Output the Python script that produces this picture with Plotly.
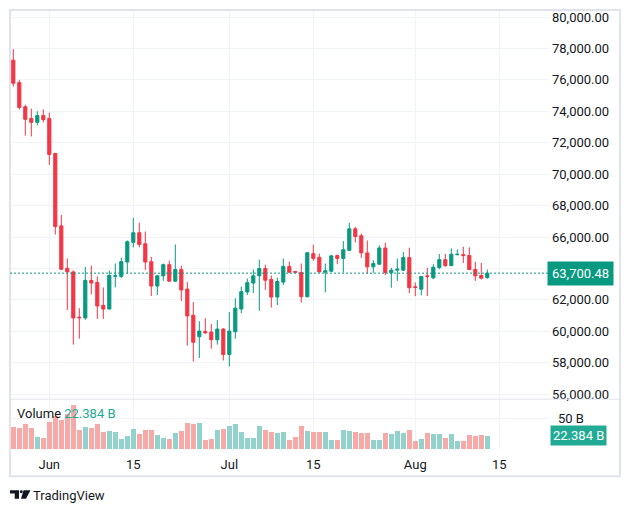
import pandas as pd
import plotly.graph_objects as go

W, H = 630, 515

# daily candles, values
dates = pd.date_range("2024-05-26", periods=80, freq="D")

opens = [77260, 75830, 74290, 73540, 73300, 73730, 73540, 71320, 66710, 64010,
         63780, 60900, 60850, 63240, 63110, 61650, 61420, 63500, 63490, 64410,
         65660, 66270, 65570, 64430, 62880, 63530, 64240, 63190, 63930, 62690,
         61020, 59650, 59990, 59950, 59460, 60140, 58520, 59970, 61420, 62500,
         63070, 63530, 63990, 63300, 62180, 63130, 64120, 63800, 63740, 62200,
         64940, 64710, 63760, 63820, 64820, 64640, 65150, 66520, 66080, 64990,
         64100, 64270, 65300, 63720, 63890, 63890, 64690, 62830, 62680, 63530,
         63400, 64060, 64560, 64180, 64870, 64880, 64820, 63930, 63550, 63420]
highs = [77960, 76000, 74420, 74170, 74000, 74120, 73920, 71350, 67410, 64630,
         63870, 61470, 64100, 64180, 63490, 62790, 63870, 64310, 64680, 65780,
         67220, 66900, 66350, 64730, 63560, 64310, 64500, 65530, 64180, 63130,
         61860, 60640, 60830, 60460, 60710, 60200, 61220, 62100, 62840, 63360,
         63930, 64560, 64240, 63550, 63420, 64630, 64430, 63850, 64310, 65010,
         65510, 64940, 64310, 64850, 64880, 65740, 66900, 66650, 66220, 65780,
         64520, 65470, 65640, 64040, 64630, 65050, 65320, 63110, 63520, 64040,
         64270, 64920, 64920, 65280, 65210, 65380, 65340, 64420, 64350, 63930]
lows = [75580, 74120, 72460, 72400, 73110, 73300, 70590, 66160, 63900, 61360,
        59150, 59530, 60730, 62350, 60790, 60790, 61380, 62790, 63400, 63680,
        65340, 65340, 63910, 62240, 62310, 63210, 63150, 63150, 61930, 59080,
        58070, 58300, 59840, 58890, 59150, 58140, 57760, 59530, 61150, 62310,
        62430, 61300, 62630, 61510, 61670, 62940, 63720, 63700, 61830, 62150,
        64480, 63740, 62480, 63780, 64270, 63740, 65100, 65660, 64670, 63680,
        63720, 64230, 63570, 62770, 63210, 63850, 62420, 62240, 62290, 62240,
        63320, 63950, 64100, 64150, 64850, 64350, 63900, 63210, 63300, 63340]
closes = [75790, 74250, 73490, 73300, 73730, 73470, 71260, 66670, 63950, 63780,
          60850, 60860, 63240, 63070, 61610, 61420, 63550, 63540, 64430, 65700,
          66270, 65530, 64410, 62880, 63530, 64240, 63190, 63930, 62630, 60980,
          59300, 60010, 59900, 59460, 60140, 58520, 60010, 61470, 62520, 63090,
          63530, 63990, 63250, 62180, 63170, 64120, 63760, 63760, 62200, 65000,
          64640, 63780, 63850, 64800, 64640, 65190, 66520, 66030, 64990, 64100,
          64310, 65300, 63740, 63890, 63950, 64690, 62770, 62790, 63490, 63490,
          64080, 64560, 64180, 64900, 64900, 64820, 63930, 63530, 63380, 63700.48]
volume_b = [36.6, 35, 41.4, 35, 20.4, 18.8, 44.6, 54.8, 47.8, 57.5,
            72.6, 31.7, 36.6, 35, 41.4, 28.5, 30.1, 28.5, 17.2, 22,
            33.3, 25.3, 31.7, 31.7, 23.7, 18.8, 17.2, 26.9, 30.1, 43,
            41.4, 43, 15.6, 17.2, 31.7, 33.3, 38.2, 41.4, 28.5, 18.8,
            18.8, 38.2, 31.7, 28.5, 27.4, 28.5, 15.6, 20.4, 38.2, 30.1,
            28.5, 28.5, 28.5, 15.6, 15.6, 31.7, 30.1, 28.5, 26.3, 27.4,
            15.6, 15.6, 26.9, 25.3, 30.1, 27.4, 31.7, 14, 17.2, 26.9,
            25.3, 25.3, 18.8, 25.3, 14, 14, 23.7, 22, 23.7, 22.384]

tick_dates = ["2024-06-01", "2024-06-15", "2024-07-01", "2024-07-15", "2024-08-01", "2024-08-15"]
tick_text = ["Jun", "15", "Jul", "15", "Aug", "15"]
price_ticks = [56000, 58000, 60000, 62000, 64000, 66000, 68000, 70000, 72000, 74000, 76000, 78000, 80000]

UP, DOWN = "#089981", "#F23645"
VOL_UP, VOL_DOWN = "#92D2CC", "#F7A9A7"
GRID = "#F0F3FA"
BORDER = "#E0E3EB"
TXT = "#131722"
FONT = "Roboto"


def px(x):
    return x / W


def py(y):
    return 1 - y / H


vol_colors = [VOL_UP if c >= o else VOL_DOWN for o, c in zip(opens, closes)]
last_close = closes[-1]
last_vol = volume_b[-1]

candles = go.Candlestick(
    x=dates, open=opens, high=highs, low=lows, close=closes,
    xaxis="x2", yaxis="y",
    increasing=dict(line=dict(color=UP, width=1), fillcolor=UP),
    decreasing=dict(line=dict(color=DOWN, width=1), fillcolor=DOWN),
    hoverinfo="skip", showlegend=False,
)
volume = go.Bar(
    x=dates, y=[v * 1e9 for v in volume_b], xaxis="x", yaxis="y2",
    marker=dict(color=vol_colors, line=dict(width=0)),
    width=0.78 * 86400000, hoverinfo="skip", showlegend=False,
)

x_range = ["2024-05-25 10:48", "2024-08-23 06:48"]
xdom = [px(10), px(549)]

tick_labels = ["" if t == 64000 else f"{t:,.2f}" for t in price_ticks]

layout = go.Layout(
    width=W, height=H,
    margin=dict(l=0, r=0, t=0, b=0),
    paper_bgcolor="white", plot_bgcolor="white",
    font=dict(family=FONT, size=13, color=TXT),
    boxgap=0.25,
    bargap=0,
    xaxis=dict(
        domain=xdom, anchor="y2", type="date", range=x_range,
        tickvals=tick_dates, ticktext=tick_text, showgrid=True, gridcolor=GRID,
        zeroline=False, showline=False, ticks="", ticklabelstandoff=6,
        rangeslider=dict(visible=False), fixedrange=True,
    ),
    xaxis2=dict(
        domain=xdom, anchor="y", type="date", range=x_range, matches="x",
        tickvals=tick_dates, showticklabels=False, showgrid=True, gridcolor=GRID,
        zeroline=False, showline=False, ticks="",
        rangeslider=dict(visible=False),
    ),
    yaxis=dict(
        domain=[py(401), py(10)], anchor="x2", side="right",
        range=[55710, 80455], tickvals=price_ticks, ticktext=tick_labels,
        showgrid=True, gridcolor=GRID, zeroline=False, showline=False, ticks="",
        ticklabelstandoff=2,
    ),
    yaxis2=dict(
        domain=[py(451.7), py(402)], anchor="x", side="right",
        range=[0, 80.2e9], tickvals=[50e9], ticktext=["50 B"],
        showgrid=True, gridcolor=GRID, zeroline=False, showline=False, ticks="",
        ticklabelstandoff=8,
    ),
    shapes=[
        dict(type="rect", xref="paper", yref="paper", x0=px(10), x1=px(620), y0=py(479), y1=py(10),
             line=dict(color=BORDER, width=2), layer="above"),
        dict(type="line", xref="paper", yref="paper", x0=px(10), x1=px(620), y0=py(401.5), y1=py(401.5),
             line=dict(color=BORDER, width=1)),
        dict(type="line", xref="paper", yref="y", x0=px(10), x1=px(549), y0=last_close, y1=last_close,
             line=dict(color=UP, width=1, dash="2px,2px")),
        # TradingView logo
        dict(type="path", xref="paper", yref="paper", fillcolor=TXT, line=dict(width=0),
             path=f"M {px(10)},{py(493)} L {px(19)},{py(493)} L {px(19)},{py(501.7)} L {px(14.7)},{py(501.7)} "
                  f"L {px(14.7)},{py(496.3)} L {px(10)},{py(496.3)} Z"),
        dict(type="circle", xref="paper", yref="paper", fillcolor=TXT, line=dict(width=0),
             x0=px(19.8), x1=px(22.8), y0=py(496.2), y1=py(493.2)),
        dict(type="path", xref="paper", yref="paper", fillcolor=TXT, line=dict(width=0),
             path=f"M {px(23.6)},{py(493)} L {px(30.5)},{py(493)} L {px(26)},{py(501.7)} L {px(21)},{py(501.7)} Z"),
    ],
    annotations=[
        dict(xref="paper", yref="y", x=px(547), y=last_close, xanchor="left", yanchor="middle",
             text=f"{last_close:,.2f}", showarrow=False, bgcolor=UP, borderpad=4,
             font=dict(color="white", size=13, family=FONT)),
        dict(xref="paper", yref="y2", x=px(550), y=last_vol * 1e9, xanchor="left", yanchor="middle",
             text=f"{last_vol:.3f} B", showarrow=False, bgcolor="#22AB94", borderpad=2,
             font=dict(color="white", size=13, family=FONT)),
        dict(xref="paper", yref="paper", x=px(15), y=py(416), xanchor="left", yanchor="middle",
             text=f"Volume <span style='color:#22AB94'>{last_vol:.3f} B</span>", showarrow=False,
             font=dict(color=TXT, size=13, family=FONT)),
        dict(xref="paper", yref="paper", x=px(31), y=py(498), xanchor="left", yanchor="middle",
             text="TradingView", showarrow=False, font=dict(color=TXT, size=13, family=FONT)),
    ],
)

fig = go.Figure(data=[volume, candles], layout=layout)
fig.write_html("out.html", config={"displayModeBar": False},
               post_script="document.body.style.margin='0';")
